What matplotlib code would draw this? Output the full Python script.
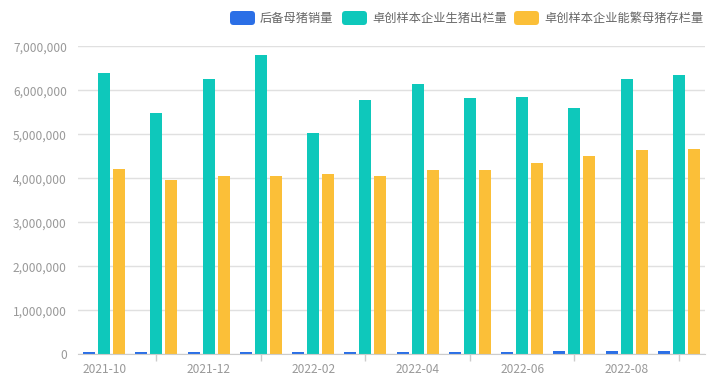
import numpy as np
import matplotlib
matplotlib.use("Agg")
import matplotlib.pyplot as plt
from matplotlib.patches import FancyBboxPatch
from matplotlib.ticker import FuncFormatter, FixedLocator

plt.rcParams['font.family'] = ['Noto Sans CJK SC', 'DejaVu Sans']

months = ["2021-10", "2021-11", "2021-12", "2022-01", "2022-02", "2022-03",
          "2022-04", "2022-05", "2022-06", "2022-07", "2022-08", "2022-09"]
sow_sales = [52000, 48000, 55000, 45000, 48000, 55000,
             50000, 50000, 62000, 80000, 65000, 80000]
hog_output = [6390000, 5480000, 6250000, 6810000, 5030000, 5770000,
              6140000, 5820000, 5840000, 5590000, 6260000, 6350000]
sow_stock = [4210000, 3960000, 4060000, 4060000, 4090000, 4060000,
             4180000, 4200000, 4350000, 4510000, 4640000, 4670000]
series_names = ["后备母猪销量", "卓创样本企业生猪出栏量", "卓创样本企业能繁母猪存栏量"]
colors = ["#2b6fe6", "#0ec8bb", "#fbbf38"]

fig = plt.figure(figsize=(7.19, 3.86), dpi=100)
ax = fig.add_axes([78 / 719, 1 - 354.3 / 386, (705 - 78) / 719, (354.3 - 46.3) / 386])

x = np.arange(len(months))
width = 0.23
offset = 0.287
for i, (vals, c) in enumerate(zip([sow_sales, hog_output, sow_stock], colors)):
    ax.bar(x + (i - 1) * offset, vals, width, color=c, zorder=3)

ax.set_xlim(-0.5, len(months) - 0.5)
ax.set_ylim(0, 7000000)
ax.set_yticks(range(0, 7000001, 1000000))
ax.yaxis.set_major_formatter(FuncFormatter(lambda v, p: f"{int(v):,}"))
ax.grid(axis='y', color='#e0e0e0', linewidth=1, zorder=0)

ax.set_xticks(x[::2])
ax.set_xticklabels(months[::2])
ax.xaxis.set_minor_locator(FixedLocator(x[1::2]))
ax.tick_params(axis='x', which='major', length=0, pad=6, labelsize=8.6, labelcolor='#999999')
ax.tick_params(axis='x', which='minor', length=5, color='#cccccc', width=1)
ax.tick_params(axis='y', length=0, pad=8, labelsize=8.6, labelcolor='#999999')

for s in ['top', 'right', 'left']:
    ax.spines[s].set_visible(False)
ax.spines['bottom'].set_color('#cccccc')
ax.spines['bottom'].set_zorder(4)

# legend, drawn by hand at the top right (inch coordinates, 100 px per inch)
legend_x = [230, 342, 514]
for lx, name, c in zip(legend_x, series_names, colors):
    box = FancyBboxPatch((lx / 100, (386 - 25) / 100), 0.25, 0.14,
                         boxstyle="round,pad=0,rounding_size=0.035",
                         transform=fig.dpi_scale_trans, facecolor=c, edgecolor='none')
    fig.patches.append(box)
    fig.text((lx + 30) / 719, 1 - 18 / 386, name, fontsize=8.8, color='#666666',
             va='center', ha='left')

fig.savefig("out.png", dpi=100)
